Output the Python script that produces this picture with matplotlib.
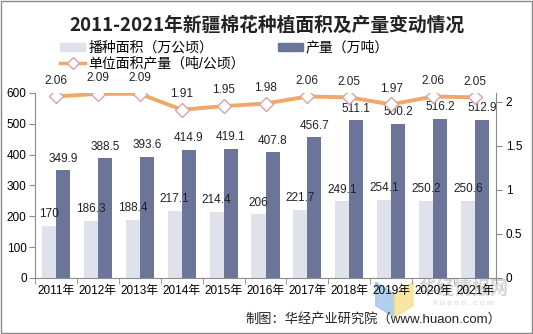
import numpy as np
import matplotlib
matplotlib.use("Agg")
import matplotlib.pyplot as plt
from matplotlib.patches import Rectangle, Polygon
from matplotlib.lines import Line2D

plt.rcParams['font.family'] = ['Liberation Sans', 'Noto Sans CJK SC', 'DejaVu Sans']

years = ['2011年', '2012年', '2013年', '2014年', '2015年', '2016年',
         '2017年', '2018年', '2019年', '2020年', '2021年']
area = [170, 186.3, 188.4, 217.1, 214.4, 206, 221.7, 249.1, 254.1, 250.2, 250.6]
output = [349.9, 388.5, 393.6, 414.9, 419.1, 407.8, 456.7, 511.1, 500.2, 516.2, 512.9]
yield_rate = [2.06, 2.09, 2.09, 1.91, 1.95, 1.98, 2.06, 2.05, 1.97, 2.06, 2.05]

c_area = '#dfe2ea'
c_out = '#6b7599'
c_line = '#f0a868'
c_axis = '#8c8c8c'

fig = plt.figure(figsize=(5.33, 3.34), dpi=100)
ax = fig.add_axes([0.0657, 0.1677, 0.8649, 0.554])
ax.set_facecolor('none')

x = np.arange(len(years))
w = 0.335
ax.bar(x - w / 2, area, w, color=c_area, zorder=2)
ax.bar(x + w / 2, output, w, color=c_out, zorder=2)

for xi, v in zip(x, area):
    ax.annotate(f'{v:g}', (xi - w / 2, v), xytext=(0, 4), textcoords='offset points',
                ha='center', va='bottom', fontsize=8.5, color='#222222')
for xi, v in zip(x, output):
    ax.annotate(f'{v:g}', (xi + w / 2, v), xytext=(0, 4), textcoords='offset points',
                ha='center', va='bottom', fontsize=8.5, color='#222222')

ax.set_xlim(-0.5, len(years) - 0.5)
ax.set_ylim(0, 600)
ax.set_yticks(range(0, 601, 100))
ax.set_xticks(x)
ax.set_xticklabels(years)
ax.set_xticks(np.arange(-0.5, len(years), 1), minor=True)
ax.tick_params(axis='x', which='major', length=0, labelsize=8.5, pad=5)
ax.tick_params(axis='x', which='minor', length=4, color=c_axis, direction='out')
ax.tick_params(axis='y', length=4, color=c_axis, labelsize=8.5, pad=2)
for s in ['top', 'right']:
    ax.spines[s].set_visible(False)
for s in ['left', 'bottom']:
    ax.spines[s].set_color(c_axis)

ax2 = ax.twinx()
ax2.plot(x, yield_rate, color=c_line, lw=2.8, marker='D', markersize=7,
         markerfacecolor='white', markeredgecolor='#d9a3a3', markeredgewidth=1, zorder=4)
for xi, v in zip(x, yield_rate):
    ax2.annotate(f'{v:.2f}', (xi, v), xytext=(0, 7), textcoords='offset points',
                 ha='center', va='bottom', fontsize=8.5, color='#222222')
ax2.set_ylim(0, 2.1)
ax2.set_yticks([0, 0.5, 1, 1.5, 2])
ax2.set_yticklabels(['0', '0.5', '1', '1.5', '2'])
ax2.tick_params(axis='y', length=4, color=c_axis, labelsize=8.5, pad=3)
for s in ['top', 'left', 'bottom']:
    ax2.spines[s].set_visible(False)
ax2.spines['right'].set_color(c_axis)

fig.text(0.5, 0.925, '2011-2021年新疆棉花种植面积及产量变动情况', ha='center', va='center',
         fontsize=13.5, fontweight='bold', color='#222222',
         family=['Noto Sans CJK SC', 'DejaVu Sans'])

handles = [Rectangle((0, 0), 1, 1, color=c_area),
           Line2D([], [], color=c_line, lw=2.5, marker='D', markersize=6,
                  markerfacecolor='white', markeredgecolor='#d9a3a3'),
           Rectangle((0, 0), 1, 1, color=c_out)]
labels = ['播种面积（万公顷）', '单位面积产量（吨/公顷）', '产量（万吨）']
fig.legend(handles, labels, ncol=2, loc='upper left', bbox_to_anchor=(0.103, 0.895),
           frameon=False, fontsize=10, handlelength=1.8, handleheight=0.5,
           handletextpad=0.2, columnspacing=2.4, labelspacing=0.15, borderaxespad=0)

# watermark
fig.patches.append(Polygon([(0.705, 0.155), (0.74, 0.12), (0.74, 0.05), (0.705, 0.085)],
                           closed=True, transform=fig.transFigure, color='#9ec3ea',
                           alpha=0.8, zorder=-1))
fig.patches.append(Polygon([(0.74, 0.12), (0.775, 0.155), (0.775, 0.085), (0.74, 0.05)],
                           closed=True, transform=fig.transFigure, color='#f6e08e',
                           alpha=0.8, zorder=-1))
fig.text(0.87, 0.135, '华经情报网', ha='center', va='center', fontsize=13, fontweight='bold',
         color='#d4d4d4', family=['Noto Sans CJK SC'], zorder=-1)
fig.text(0.87, 0.092, 'h u a o n . c o m', ha='center', va='center', fontsize=6,
         color='#d4d4d4', zorder=-1)

fig.text(0.94, 0.045, '制图：华经产业研究院（www.huaon.com）', ha='right', va='center',
         fontsize=9.5, color='#222222')

fig.patches.append(Rectangle((0.002, 0.003), 0.996, 0.994, transform=fig.transFigure,
                             fill=False, edgecolor='#8a8a8a', lw=1))

fig.savefig('out.png', dpi=100)
